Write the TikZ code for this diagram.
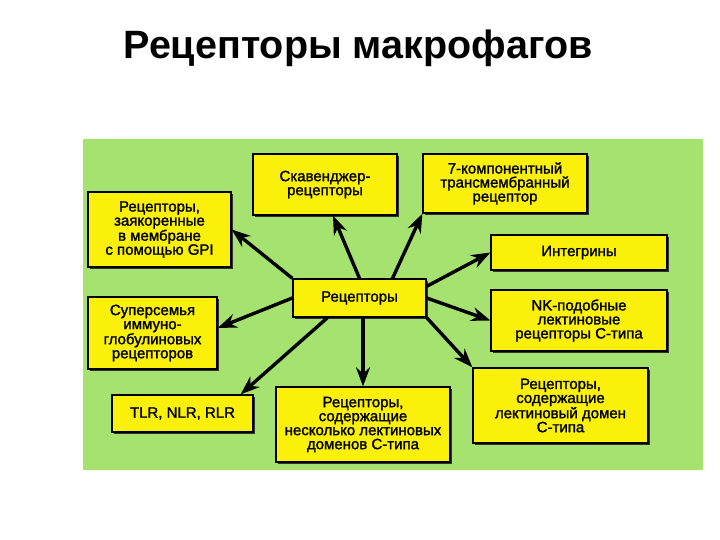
\documentclass[tikz,border=0pt]{standalone}
\usepackage{fontspec}
\setmainfont{Liberation Sans}
\newfontface\boxfont{Liberation Sans}[FakeBold=1.5]
\usetikzlibrary{arrows.meta,shadows}

\definecolor{panelgreen}{RGB}{166,226,112}
\definecolor{boxyellow}{RGB}{250,240,10}

\begin{document}
\begin{tikzpicture}[x=1pt, y=-1pt, every node/.style={font=\boxfont\fontsize{15}{14}\selectfont}]
    \tikzset{block/.style={rectangle, draw, line width=1.3pt, fill=boxyellow, align=center, inner sep=0pt,
        drop shadow={shadow xshift=2pt, shadow yshift=-2pt, fill=black!80, opacity=1}}}
    \tikzset{line/.style={draw, -{Stealth[length=19pt, width=14pt]}, line width=3.4pt}}

    \useasboundingbox [fill=white] (0,0) rectangle (720,540);
    \fill [panelgreen] (83,139) rectangle (703,470);

    % Title
    \node [font=\bfseries\fontsize{39.5}{42}\selectfont, anchor=base] (title) at (358,59) {Рецепторы макрофагов};

    % Upper row
    \node [block, minimum width=144pt, minimum height=61pt] (scav) at (325,184.5) {Скавенджер-\\рецепторы};
    \node [block, minimum width=164pt, minimum height=59pt] (seven) at (505,183.5) {7-компонентный\\трансмембранный\\рецептор};
    \node [block, minimum width=143pt, minimum height=75pt] (gpi) at (159.5,229.5) {Рецепторы,\\заякоренные\\в мембране\\с помощью GPI};
    \node [block, minimum width=176pt, minimum height=35pt] (integ) at (579,252.5) {Интегрины};

    % Centre
    \node [block, minimum width=133pt, minimum height=38pt] (rec) at (359.5,298) {Рецепторы};

    % Lower row
    \node [block, minimum width=129pt, minimum height=72pt] (ig) at (152.5,333) {Суперсемья\\иммуно-\\глобулиновых\\рецепторов};
    \node [block, minimum width=176pt, minimum height=61pt] (nk) at (579,320.5) {NK-подобные\\лектиновые\\рецепторы С-типа};
    \node [block, minimum width=141pt, minimum height=37pt] (tlr) at (182.5,413.5) {TLR, NLR, RLR};
    \node [block, minimum width=174pt, minimum height=75pt] (multi) at (363,424.5) {Рецепторы,\\содержащие\\несколько лектиновых\\доменов С-типа};
    \node [block, minimum width=175pt, minimum height=75pt] (lect) at (560.5,405.5) {Рецепторы,\\содержащие\\лектиновый домен\\С-типа};

    \path [line] (rec.north) -- ([xshift=8pt]scav.south);
    \path [line] ([xshift=33pt]rec.north) -- (seven.south west);
    \path [line] (rec.north west) -- (gpi.east);
    \path [line] ([yshift=-8pt]rec.north east) -- (integ.west);
    \path [line] (rec.east) -- (nk.west);
    \path [line] (rec.south east) -- (lect.north west);
    \path [line] (multi.north |- rec.south) -- (multi.north);
    \path [line] ([xshift=-32pt]rec.south) -- ([xshift=-13pt]tlr.north east);
    \path [line] (rec.west) -- ([yshift=5pt]ig.east);
\end{tikzpicture}
\end{document}
